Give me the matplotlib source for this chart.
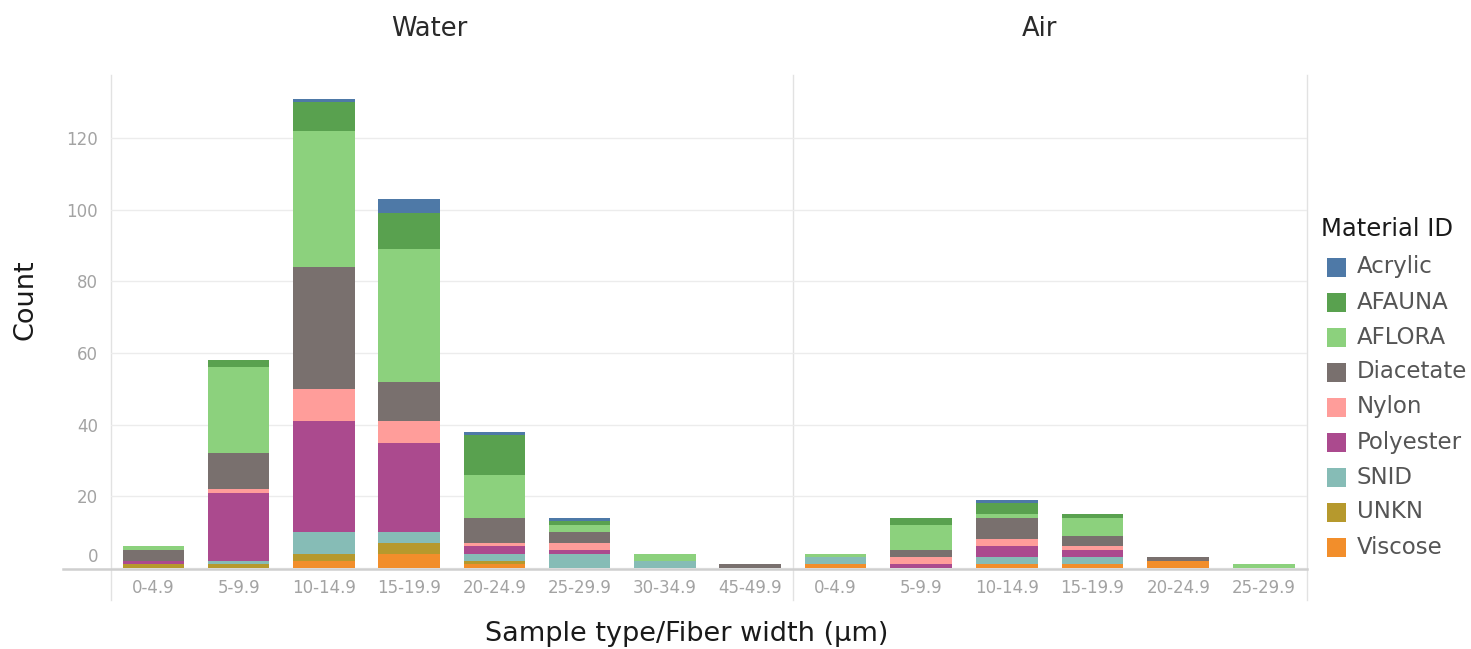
import matplotlib
matplotlib.use("Agg")
import matplotlib.pyplot as plt
from matplotlib.patches import Rectangle
from matplotlib.lines import Line2D
import matplotlib.transforms as mtransforms
import numpy as np

# ---------------- data ----------------
materials = ["Acrylic", "AFAUNA", "AFLORA", "Diacetate", "Nylon",
             "Polyester", "SNID", "UNKN", "Viscose"]
colors = ["#4e79a7", "#59a14f", "#8cd17d", "#79706e", "#ff9d9a",
          "#ab4a8e", "#86bcb6", "#b6992d", "#f28e2b"]

water_bins = ["0-4.9", "5-9.9", "10-14.9", "15-19.9", "20-24.9",
              "25-29.9", "30-34.9", "45-49.9"]
water_acrylic   = [0, 0, 1, 4, 1, 1, 0, 0]
water_afauna    = [0, 2, 8, 10, 11, 1, 0, 0]
water_aflora    = [1, 24, 38, 37, 12, 2, 2, 0]
water_diacetate = [3, 10, 34, 11, 7, 3, 0, 1]
water_nylon     = [0, 1, 9, 6, 1, 2, 0, 0]
water_polyester = [1, 19, 31, 25, 2, 1, 0, 0]
water_snid      = [0, 1, 6, 3, 2, 4, 2, 0]
water_unkn      = [1, 1, 2, 3, 1, 0, 0, 0]
water_viscose   = [0, 0, 2, 4, 1, 0, 0, 0]

air_bins = ["0-4.9", "5-9.9", "10-14.9", "15-19.9", "20-24.9", "25-29.9"]
air_acrylic   = [0, 0, 1, 0, 0, 0]
air_afauna    = [0, 2, 3, 1, 0, 0]
air_aflora    = [1, 7, 1, 5, 0, 1]
air_diacetate = [0, 2, 6, 3, 1, 0]
air_nylon     = [0, 2, 2, 1, 0, 0]
air_polyester = [0, 1, 3, 2, 0, 0]
air_snid      = [2, 0, 2, 2, 0, 0]
air_unkn      = [0, 0, 0, 0, 0, 0]
air_viscose   = [1, 0, 1, 1, 2, 0]

y_ticks = [0, 20, 40, 60, 80, 100, 120]

water = dict(zip(materials, [water_acrylic, water_afauna, water_aflora, water_diacetate,
                             water_nylon, water_polyester, water_snid, water_unkn, water_viscose]))
air = dict(zip(materials, [air_acrylic, air_afauna, air_aflora, air_diacetate,
                           air_nylon, air_polyester, air_snid, air_unkn, air_viscose]))
color_of = dict(zip(materials, colors))
stack_order = materials[::-1]  # Viscose at bottom ... Acrylic on top

# ---------------- figure ----------------
W, H = 1471, 649
fig = plt.figure(figsize=(W / 100, H / 100), dpi=100)
plt.rcParams['font.family'] = ['DejaVu Sans']

def fx(px):
    return px / W

def fy(py):
    return 1 - py / H

X0, X1, X2 = 110.7, 792.7, 1306.7
YB, YT = 568.0, 77.0
ax_w = fig.add_axes([fx(X0), fy(YB), fx(X1) - fx(X0), fy(YT) - fy(YB)])
ax_a = fig.add_axes([fx(X1), fy(YB), fx(X2) - fx(X1), fy(YT) - fy(YB)], sharey=ax_w)

tick_col = "#a3a3a3"
for ax, data, bins in [(ax_w, water, water_bins), (ax_a, air, air_bins)]:
    x = np.arange(len(bins))
    bottom = np.zeros(len(bins))
    for m in stack_order:
        vals = np.array(data[m], dtype=float)
        ax.bar(x, vals, 0.72, bottom=bottom, color=color_of[m], linewidth=0, zorder=2)
        bottom += vals
    ax.set_xlim(-0.5, len(bins) - 0.5)
    ax.set_xticks(x)
    ax.set_xticklabels(bins)
    ax.set_ylim(0, 137)
    ax.set_yticks(y_ticks)
    ax.yaxis.grid(True, color="#ececec", linewidth=1)
    ax.set_axisbelow(True)
    for s in ax.spines.values():
        s.set_visible(False)
    ax.tick_params(axis='x', length=0, pad=8, labelsize=12, labelcolor=tick_col)
    ax.tick_params(axis='y', length=0, pad=9, labelsize=12, labelcolor=tick_col)
    ax.patch.set_alpha(0)

ax_a.tick_params(axis='y', labelleft=False)

# lift the "0" label like the original
t0 = ax_w.yaxis.get_major_ticks()[0]
t0.label1.set_transform(t0.label1.get_transform() +
                        mtransforms.ScaledTranslation(0, 13 / 100, fig.dpi_scale_trans))

# pane borders and zero line
for xv in (X0, X1, X2):
    fig.add_artist(Line2D([fx(xv), fx(xv)], [fy(75), fy(600)], transform=fig.transFigure,
                          color="#e2e2e2", linewidth=1, zorder=0))
fig.add_artist(Line2D([fx(63), fx(X2)], [fy(568.5), fy(568.5)], transform=fig.transFigure,
                      color="#cfcfcf", linewidth=1.8, zorder=3))

# headers and labels
fig.text(fx(429), fy(29), "Water", ha="center", va="center", fontsize=18.5, color="#2a2a2a")
fig.text(fx(1040), fy(29), "Air", ha="center", va="center", fontsize=18.5, color="#2a2a2a")
fig.text(fx(26), fy(300), "Count", ha="center", va="center", rotation=90,
         fontsize=19.5, color="#1a1a1a")
fig.text(fx(687), fy(634), "Sample type/Fiber width (µm)", ha="center", va="center",
         fontsize=19.5, color="#1a1a1a")

# legend
fig.text(fx(1321), fy(229), "Material ID", ha="left", va="center", fontsize=17.5,
         color="#1a1a1a")
for i, m in enumerate(materials):
    yc = 267 + 35 * i
    fig.add_artist(Rectangle((fx(1327), fy(yc + 9.5)), fx(19), 19 / H,
                             transform=fig.transFigure, facecolor=color_of[m],
                             edgecolor="none"))
    fig.text(fx(1357), fy(yc), m, ha="left", va="center", fontsize=16.5, color="#555555")

fig.savefig("out.png", dpi=100)
